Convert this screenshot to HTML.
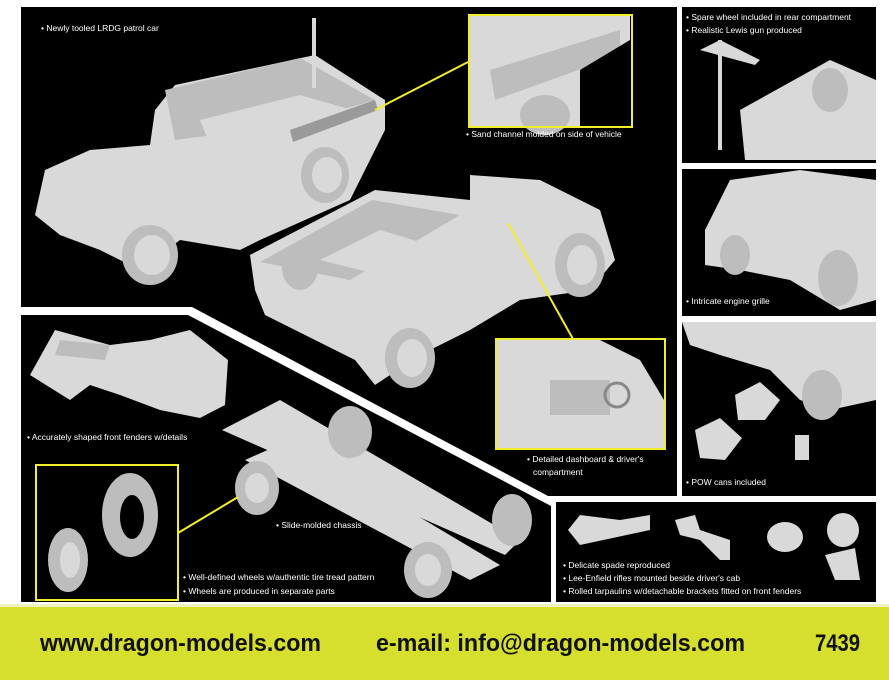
<!DOCTYPE html>
<html><head><meta charset="utf-8"><style>
html,body{margin:0;padding:0;background:#fff;width:889px;height:680px;overflow:hidden}
svg{display:block}
.t{font-family:"Liberation Sans",sans-serif;font-size:8.5px;fill:#fff}
.f{font-family:"Liberation Sans",sans-serif;font-size:24px;font-weight:bold;fill:#111}
.g{fill:#d9d9d9}.d{fill:#bdbdbd}.k{fill:#9a9a9a}
</style></head><body>
<svg width="889" height="680" viewBox="0 0 889 680">
<rect width="889" height="680" fill="#fff"/>
<!-- panels -->
<polygon points="21,7 677,7 677,496 548,496 192,307 21,307" fill="#000"/>
<polygon points="21,315 188,315 551,506 551,602 21,602" fill="#000"/>
<rect x="682" y="7" width="194" height="156" fill="#000"/>
<rect x="682" y="169" width="194" height="147" fill="#000"/>
<rect x="682" y="322" width="194" height="174" fill="#000"/>
<rect x="556" y="502" width="320" height="100" fill="#000"/>
<!-- footer -->
<rect x="0" y="604" width="889" height="3" fill="#eef3c0"/>
<rect x="0" y="607" width="889" height="73" fill="#d6df2e"/>
<text class="f" x="40" y="651" textLength="281" lengthAdjust="spacingAndGlyphs">www.dragon-models.com</text>
<text class="f" x="376" y="651" textLength="369" lengthAdjust="spacingAndGlyphs">e-mail: info@dragon-models.com</text>
<text class="f" x="815" y="651" textLength="45" lengthAdjust="spacingAndGlyphs">7439</text>

<!-- truck 1 -->
<polygon class="g" points="155,110 175,85 315,55 385,100 385,130 350,200 260,240 240,250 180,240 140,270 100,250 60,235 35,215 45,170 90,150 150,145" />
<polygon class="d" points="165,90 300,58 375,100 290,125 175,140"/>
<polygon class="g" points="200,120 300,95 370,115 290,140 210,145"/>
<ellipse class="d" cx="150" cy="255" rx="28" ry="30"/><ellipse class="g" cx="152" cy="255" rx="18" ry="20"/>
<ellipse class="d" cx="325" cy="175" rx="24" ry="28"/><ellipse class="g" cx="327" cy="175" rx="15" ry="18"/>
<polygon class="k" points="290,130 375,100 378,110 293,142"/>
<rect class="g" x="312" y="18" width="4" height="70"/>
<!-- truck 2 -->
<polygon class="g" points="250,255 375,190 470,200 470,175 540,180 600,210 615,260 590,290 520,300 470,330 420,355 375,385 355,360 265,315 255,290"/>
<polygon class="d" points="260,262 372,200 460,215 350,280"/>
<polygon class="g" points="320,260 380,230 430,245 380,275"/>
<ellipse class="d" cx="580" cy="265" rx="25" ry="32"/><ellipse class="g" cx="582" cy="265" rx="15" ry="20"/>
<ellipse class="d" cx="410" cy="358" rx="25" ry="30"/><ellipse class="g" cx="412" cy="358" rx="15" ry="19"/>
<ellipse class="d" cx="300" cy="268" rx="18" ry="22"/>
<!-- fenders -->
<polygon class="g" points="30,375 55,330 110,345 150,340 190,330 228,360 225,405 200,418 160,410 120,395 90,385 70,400"/>
<polygon class="d" points="60,340 110,345 105,360 55,355"/>
<!-- chassis -->
<polygon class="g" points="222,430 280,400 520,540 505,555"/>
<polygon class="g" points="245,460 290,440 500,565 470,580"/>
<ellipse class="d" cx="350" cy="432" rx="22" ry="26"/><ellipse class="d" cx="257" cy="488" rx="22" ry="27"/>
<ellipse class="d" cx="512" cy="520" rx="20" ry="26"/><ellipse class="d" cx="428" cy="570" rx="24" ry="28"/>
<ellipse class="g" cx="257" cy="488" rx="12" ry="15"/><ellipse class="g" cx="428" cy="570" rx="13" ry="16"/>
<!-- wheel inset -->
<ellipse class="d" cx="130" cy="515" rx="28" ry="42"/><ellipse fill="#000" cx="132" cy="517" rx="12" ry="22"/>
<ellipse class="d" cx="68" cy="560" rx="20" ry="32"/><ellipse class="g" cx="70" cy="560" rx="10" ry="18"/>
<!-- sand channel inset -->
<rect class="g" x="470" y="16" width="160" height="110"/>
<polygon class="d" points="490,70 620,30 620,55 495,100"/>
<polygon fill="#000" points="580,70 630,40 630,126 580,126"/>
<ellipse class="d" cx="545" cy="115" rx="25" ry="20"/>
<!-- dashboard inset -->
<rect class="g" x="497" y="340" width="167" height="108"/>
<rect class="d" x="550" y="380" width="60" height="35"/>
<circle cx="617" cy="395" r="12" fill="none" stroke="#888" stroke-width="3"/>
<polygon fill="#000" points="600,340 664,340 664,400 640,360"/>
<!-- right panels -->
<rect class="g" x="718" y="40" width="4" height="110"/><polygon class="g" points="700,50 720,40 760,60 755,65"/>
<polygon class="g" points="740,110 830,60 876,80 876,160 745,160"/>
<ellipse class="d" cx="830" cy="90" rx="18" ry="22"/>
<polygon class="g" points="705,230 730,180 800,170 876,180 876,300 840,310 790,280 740,270 705,265"/>
<ellipse class="d" cx="838" cy="278" rx="20" ry="28"/><ellipse class="d" cx="735" cy="255" rx="15" ry="20"/>
<polygon class="g" points="682,322 876,322 876,400 830,410 800,400 770,370 720,355 690,345"/>
<ellipse class="d" cx="822" cy="395" rx="20" ry="25"/>
<polygon class="g" points="735,395 760,382 780,400 765,420 738,420"/>
<polygon class="g" points="695,430 720,418 742,438 725,460 700,458"/>
<rect class="g" x="795" y="435" width="14" height="25"/>
<!-- bottom right -->
<polygon class="g" points="568,530 580,515 620,520 650,515 650,530 580,545"/>
<polygon class="g" points="675,520 695,515 700,530 730,540 730,560 720,560 700,540 680,535"/>
<ellipse class="g" cx="785" cy="537" rx="18" ry="15"/><ellipse class="g" cx="843" cy="530" rx="16" ry="17"/>
<polygon class="g" points="825,555 855,548 860,580 835,580"/>
<!-- yellow -->
<g fill="none" stroke="#f2ee2a" stroke-width="2">
<rect x="469" y="15" width="163" height="112"/>
<rect x="496" y="339" width="169" height="110"/>
<rect x="36" y="465" width="142" height="135"/>
<line x1="468" y1="62" x2="375" y2="110"/>
<line x1="508" y1="223" x2="573" y2="339"/>
<line x1="178" y1="533" x2="238" y2="497"/>
</g>
<!-- labels -->
<text class="t" x="41" y="31">• Newly tooled LRDG patrol car</text>
<text class="t" x="466" y="137">• Sand channel molded on side of vehicle</text>
<text class="t" x="686" y="20">• Spare wheel included in rear compartment</text>
<text class="t" x="686" y="33">• Realistic Lewis gun produced</text>
<text class="t" x="686" y="304">• Intricate engine grille</text>
<text class="t" x="686" y="485">• POW cans included</text>
<text class="t" x="527" y="462">• Detailed dashboard &amp; driver's</text>
<text class="t" x="533" y="475">compartment</text>
<text class="t" x="27" y="440">• Accurately shaped front fenders w/details</text>
<text class="t" x="276" y="528">• Slide-molded chassis</text>
<text class="t" x="183" y="580">• Well-defined wheels w/authentic tire tread pattern</text>
<text class="t" x="183" y="594">• Wheels are produced in separate parts</text>
<text class="t" x="563" y="568">• Delicate spade reproduced</text>
<text class="t" x="563" y="581">• Lee-Enfield rifles mounted beside driver's cab</text>
<text class="t" x="563" y="594">• Rolled tarpaulins w/detachable brackets fitted on front fenders</text>
</svg>
</body></html>
